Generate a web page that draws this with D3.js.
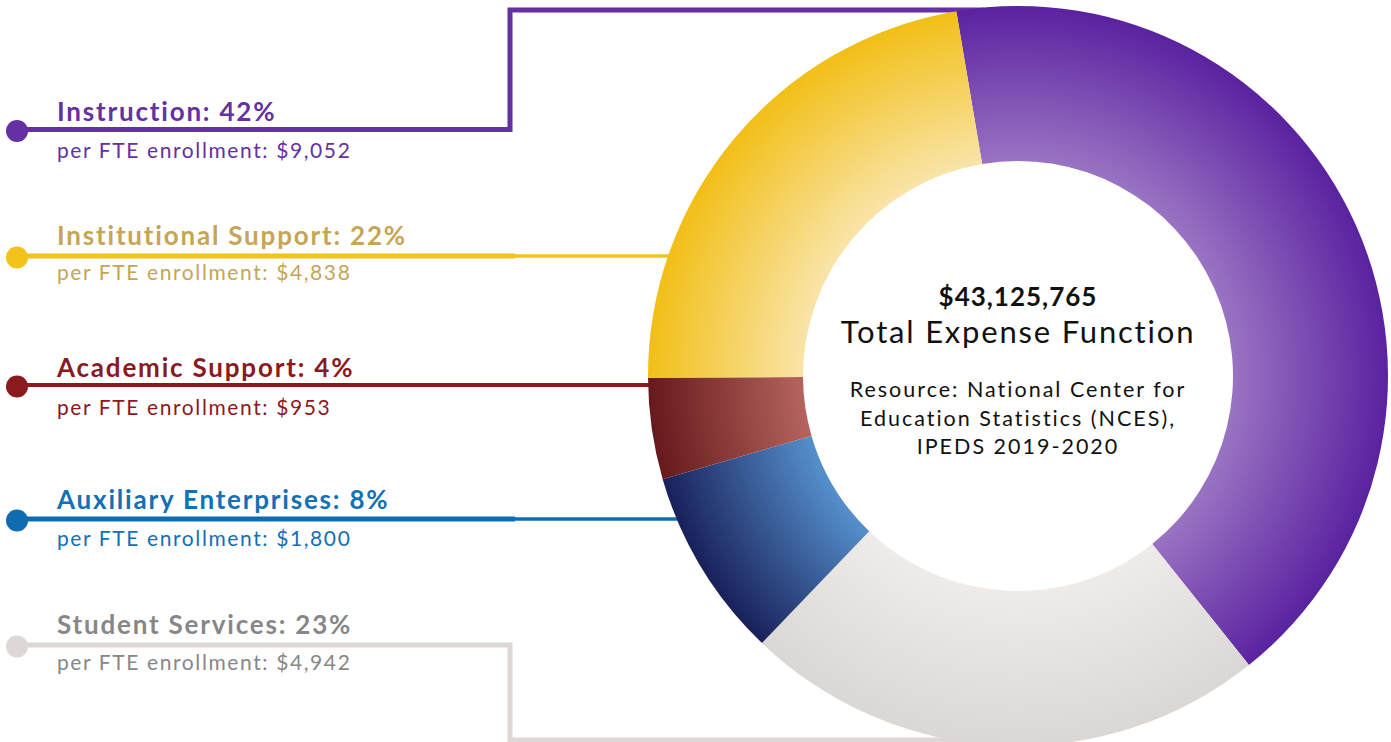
<!DOCTYPE html>
<html lang="en">
<head>
<meta charset="UTF-8">
<title>Total Expense Function</title>
<script src="https://d3js.org/d3.v7.min.js"></script>
<style>
    body { margin: 0; background: #fff; }
    svg { display: block; font-family: Lato, "Open Sans", sans-serif; }
    .head { font-size: 26px; font-weight: 700; letter-spacing: 1.8px; }
    .sub { font-size: 21px; font-weight: 400; letter-spacing: 1.6px; }
</style>
</head>
<body>
<div id="chart"></div>
<script>
// categories in the order of the legend (top to bottom)
var categories = ["Instruction", "Institutional Support", "Academic Support", "Auxiliary Enterprises", "Student Services"];
var percents = [42, 22, 4, 8, 23];
var perFTE = [9052, 4838, 953, 1800, 4942];
// clockwise order of the slices, starting just left of 12 o'clock
var sliceOrder = ["Instruction", "Student Services", "Auxiliary Enterprises", "Academic Support", "Institutional Support"];
var totalLabel = "$43,125,765";
var titleLabel = "Total Expense Function";
var sourceLines = ["Resource: National Center for", "Education Statistics (NCES),", "IPEDS 2019-2020"];

// colours per category: text, line, gradient inner, gradient outer
var textColor = {
    "Instruction": "#6430a2",
    "Institutional Support": "#c6a555",
    "Academic Support": "#8a1a20",
    "Auxiliary Enterprises": "#1270b4",
    "Student Services": "#878787"
};
var lineColor = {
    "Instruction": "#6530a3",
    "Institutional Support": "#f2c31b",
    "Academic Support": "#8b1a1e",
    "Auxiliary Enterprises": "#0f6cb0",
    "Student Services": "#ddd8d6"
};
var gradInner = {
    "Instruction": "#9a73c3",
    "Student Services": "#eeebe9",
    "Auxiliary Enterprises": "#5590cc",
    "Academic Support": "#b5645d",
    "Institutional Support": "#f9e4a8"
};
var gradOuter = {
    "Instruction": "#5a22a0",
    "Student Services": "#dbd7d4",
    "Auxiliary Enterprises": "#19205a",
    "Academic Support": "#66191c",
    "Institutional Support": "#f2bf17"
};

var width = 1391, height = 742;
var cx = 1018, cy = 376, outerR = 370, innerR = 215;
var startDeg = -9.6;

// legend layout
var legendX = 57, dotX = 17, dotR = 11, elbowX = 510;
var lineYs = [129.5, 256, 385, 519, 645];
var headYs = [121, 245, 377, 509, 634];
var subYs = [157.5, 279.5, 414.5, 545.5, 669.5];
var elbowYs = [10, null, null, null, 740];
var thinFrom = [null, 515, null, 515, null];
var strokeW = [5, 5, 4, 5, 5];

var svg = d3.select("#chart").append("svg")
    .attr("width", width)
    .attr("height", height);

var defs = svg.append("defs");

var pie = d3.pie()
    .sort(null)
    .value(function(d) { return perFTE[categories.indexOf(d)]; })
    .startAngle(startDeg * Math.PI / 180)
    .endAngle(startDeg * Math.PI / 180 + 2 * Math.PI);

var arc = d3.arc().innerRadius(innerR).outerRadius(outerR);

function edgeX(y) {
    var dy = y - cy;
    return cx - Math.sqrt(outerR * outerR - dy * dy);
}

// leader lines (drawn under the donut)
var lines = svg.append("g");
categories.forEach(function(c, i) {
    var y = lineYs[i];
    var col = lineColor[c];
    if (elbowYs[i] != null) {
        var ey = elbowYs[i];
        lines.append("path")
            .attr("d", "M" + dotX + "," + y + "H" + elbowX + "V" + ey + "H" + (edgeX(ey) + 20))
            .attr("fill", "none")
            .attr("stroke", col)
            .attr("stroke-width", strokeW[i]);
    } else if (thinFrom[i] != null) {
        lines.append("line")
            .attr("x1", dotX).attr("y1", y)
            .attr("x2", thinFrom[i]).attr("y2", y)
            .attr("stroke", col).attr("stroke-width", strokeW[i]);
        lines.append("line")
            .attr("x1", thinFrom[i]).attr("y1", y)
            .attr("x2", edgeX(y) + 20).attr("y2", y)
            .attr("stroke", col).attr("stroke-width", 3.5);
    } else {
        lines.append("line")
            .attr("x1", dotX).attr("y1", y)
            .attr("x2", edgeX(y) + 20).attr("y2", y)
            .attr("stroke", col).attr("stroke-width", strokeW[i]);
    }
    lines.append("circle")
        .attr("cx", dotX).attr("cy", y + 1.5)
        .attr("r", dotR)
        .attr("fill", col);
});

// donut
var g = svg.append("g").attr("transform", "translate(" + cx + "," + cy + ")");

sliceOrder.forEach(function(c, i) {
    var grad = defs.append("radialGradient")
        .attr("id", "grad" + i)
        .attr("gradientUnits", "userSpaceOnUse")
        .attr("cx", 0).attr("cy", 0).attr("r", outerR);
    grad.append("stop").attr("offset", innerR / outerR).attr("stop-color", gradInner[c]);
    grad.append("stop").attr("offset", 1).attr("stop-color", gradOuter[c]);
});

g.selectAll("path.slice")
    .data(pie(sliceOrder))
    .enter().append("path")
    .attr("class", "slice")
    .attr("d", arc)
    .attr("fill", function(d, i) { return "url(#grad" + i + ")"; });

// legend text
var legend = svg.append("g");
categories.forEach(function(c, i) {
    legend.append("text")
        .attr("class", "head")
        .attr("x", legendX)
        .attr("y", headYs[i])
        .attr("fill", textColor[c])
        .text(c + ": " + percents[i] + "%");
    legend.append("text")
        .attr("class", "sub")
        .attr("x", legendX)
        .attr("y", subYs[i])
        .attr("fill", textColor[c])
        .text("per FTE enrollment: " + d3.format("$,")(perFTE[i]));
});

// centre text
var center = svg.append("g").attr("text-anchor", "middle").attr("fill", "#111");
center.append("text")
    .attr("x", cx).attr("y", 306)
    .style("font-size", "26px").style("font-weight", 700).style("letter-spacing", "1px")
    .text(totalLabel);
center.append("text")
    .attr("x", cx).attr("y", 343)
    .style("font-size", "31px").style("letter-spacing", "1.8px")
    .text(titleLabel);
sourceLines.forEach(function(s, i) {
    center.append("text")
        .attr("x", cx).attr("y", 397 + i * 28.5)
        .style("font-size", "21.5px").style("letter-spacing", "2px")
        .text(s);
});
</script>
</body>
</html>
